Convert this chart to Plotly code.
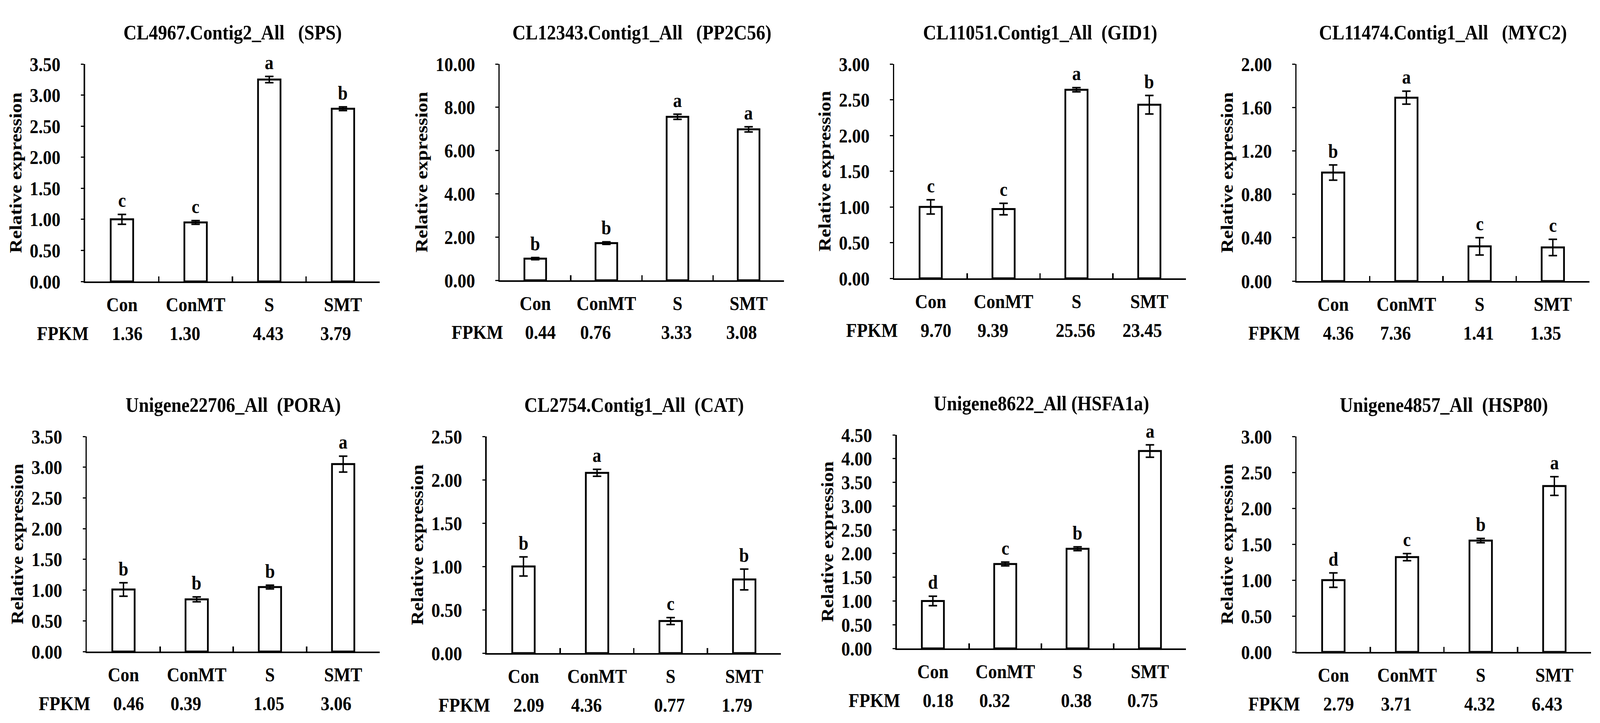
import plotly.graph_objects as go

# Treatments on the x axis
groups = ["Con", "ConMT", "S", "SMT"]

# One entry per gene panel (top row left to right, then bottom row)
titles = [
    "CL4967.Contig2_All\u00a0\u00a0\u00a0(SPS)",
    "CL12343.Contig1_All\u00a0\u00a0\u00a0(PP2C56)",
    "CL11051.Contig1_All\u00a0\u00a0(GID1)",
    "CL11474.Contig1_All\u00a0\u00a0\u00a0(MYC2)",
    "Unigene22706_All\u00a0\u00a0(PORA)",
    "CL2754.Contig1_All\u00a0\u00a0(CAT)",
    "Unigene8622_All (HSFA1a)",
    "Unigene4857_All\u00a0\u00a0(HSP80)",
]

# relative expression (bar heights)
expr = [
    [1.00, 0.95, 3.25, 2.78],
    [1.00, 1.72, 7.56, 6.98],
    [1.00, 0.97, 2.64, 2.43],
    [1.00, 1.69, 0.32, 0.31],
    [1.01, 0.85, 1.05, 3.05],
    [1.00, 2.08, 0.37, 0.85],
    [1.00, 1.78, 2.10, 4.16],
    [1.00, 1.32, 1.55, 2.31],
]

# error bars
sd = [
    [0.08, 0.03, 0.05, 0.03],
    [0.05, 0.06, 0.12, 0.12],
    [0.10, 0.08, 0.03, 0.13],
    [0.07, 0.06, 0.08, 0.075],
    [0.11, 0.04, 0.03, 0.13],
    [0.11, 0.04, 0.04, 0.12],
    [0.10, 0.04, 0.04, 0.13],
    [0.10, 0.05, 0.03, 0.13],
]

# significance letters
letters = [
    ["c", "c", "a", "b"],
    ["b", "b", "a", "a"],
    ["c", "c", "a", "b"],
    ["b", "a", "c", "c"],
    ["b", "b", "b", "a"],
    ["b", "a", "c", "b"],
    ["d", "c", "b", "a"],
    ["d", "c", "b", "a"],
]

# FPKM values printed under each panel
fpkm = [
    ["1.36", "1.30", "4.43", "3.79"],
    ["0.44", "0.76", "3.33", "3.08"],
    ["9.70", "9.39", "25.56", "23.45"],
    ["4.36", "7.36", "1.41", "1.35"],
    ["0.46", "0.39", "1.05", "3.06"],
    ["2.09", "4.36", "0.77", "1.79"],
    ["0.18", "0.32", "0.38", "0.75"],
    ["2.79", "3.71", "4.32", "6.43"],
]

# y axis scales
ymax = [3.5, 10, 3, 2, 3.5, 2.5, 4.5, 3]
ystep = [0.5, 2, 0.5, 0.4, 0.5, 0.5, 0.5, 0.5]

W, H = 4550, 1852
FONT = "Liberation Serif"

# plot area of each panel in pixels: left, right, top, bottom (zero line)
boxes = [
    (242, 1080, 164, 721),
    (1421, 2230, 164, 718),
    (2543, 3372, 164, 713),
    (3687, 4520, 164, 720),
    (247, 1080, 1118, 1669),
    (1384, 2221, 1118, 1673),
    (2550, 3373, 1114, 1661),
    (3687, 4525, 1118, 1670),
]
fpkm_shift = [15, -30, -3, -20]

fig = go.Figure()
annotations = []
txt = dict(family=FONT, size=50, color="black", weight="bold")
title_font = dict(family=FONT, size=52, color="black", weight="bold")

for i in range(8):
    n = "" if i == 0 else str(i + 1)
    xa, ya = "x" + n, "y" + n
    l, r, t, b = boxes[i]

    fig.add_trace(go.Bar(
        x=groups, y=expr[i], xaxis=xa, yaxis=ya, width=0.305,
        marker=dict(color="white", line=dict(color="black", width=5)),
        error_y=dict(type="data", array=sd[i], visible=True,
                     color="black", thickness=4, width=12),
        showlegend=False,
    ))

    fig.layout["xaxis" + n] = dict(
        domain=[l / W, r / W], anchor=ya, type="category",
        showline=True, linecolor="black", linewidth=4,
        ticks="inside", tickson="boundaries", ticklen=13, tickwidth=4,
        tickcolor="black", showgrid=False, zeroline=False,
        tickfont=txt, ticklabelstandoff=12, automargin=False,
    )
    fig.layout["yaxis" + n] = dict(
        domain=[1 - b / H, 1 - t / H], anchor=xa,
        range=[0, ymax[i]], dtick=ystep[i], tick0=0, tickformat=".2f",
        showline=True, linecolor="black", linewidth=4,
        ticks="outside", ticklen=8, tickwidth=3, tickcolor="black",
        showgrid=False, zeroline=False, tickfont=txt,
        ticklabelstandoff=48, automargin=False,
        title=dict(text="Relative expression", font=txt, standoff=8),
    )

    # panel title
    annotations.append(dict(
        text=titles[i], xref="paper", yref="paper",
        x=(l + r) / 2 / W, y=1 - t / H, yshift=80,
        xanchor="center", yanchor="middle", showarrow=False, font=title_font,
    ))

    # significance letters above error bars
    for j, g in enumerate(groups):
        annotations.append(dict(
            text=letters[i][j], xref=xa, yref=ya,
            x=g, y=expr[i][j] + sd[i][j], yshift=6,
            xanchor="center", yanchor="bottom", showarrow=False, font=txt,
        ))

    # FPKM row
    annotations.append(dict(
        text="FPKM", xref="paper", yref="paper",
        x=l / W, y=1 - b / H, xshift=12, yshift=-133,
        xanchor="right", yanchor="middle", showarrow=False, font=txt,
    ))
    for j, g in enumerate(groups):
        annotations.append(dict(
            text=fpkm[i][j], xref=xa, yref="paper",
            x=g, y=1 - b / H, xshift=fpkm_shift[j], yshift=-133,
            xanchor="center", yanchor="middle", showarrow=False, font=txt,
        ))

fig.update_layout(
    width=W, height=H, template="none",
    margin=dict(l=0, r=0, t=0, b=0),
    paper_bgcolor="white", plot_bgcolor="white",
    font=dict(family=FONT, color="black"),
    annotations=annotations, showlegend=False,
)

# fit the fixed-size figure into whatever viewport the page gets
fit_js = """
var gd = document.getElementById('{plot_id}');
document.documentElement.style.overflow = 'hidden';
document.body.style.margin = '0';
document.body.style.overflow = 'hidden';
var box = gd.parentElement;
box.style.width = '100vw';
box.style.height = '100vh';
box.style.overflow = 'hidden';
var sx = window.innerWidth / %d, sy = window.innerHeight / %d;
gd.style.transformOrigin = '0 0';
gd.style.transform = 'scale(' + sx + ',' + sy + ')';
""" % (W, H)

fig.write_html("out.html", post_script=fit_js,
               config={"displayModeBar": False})
